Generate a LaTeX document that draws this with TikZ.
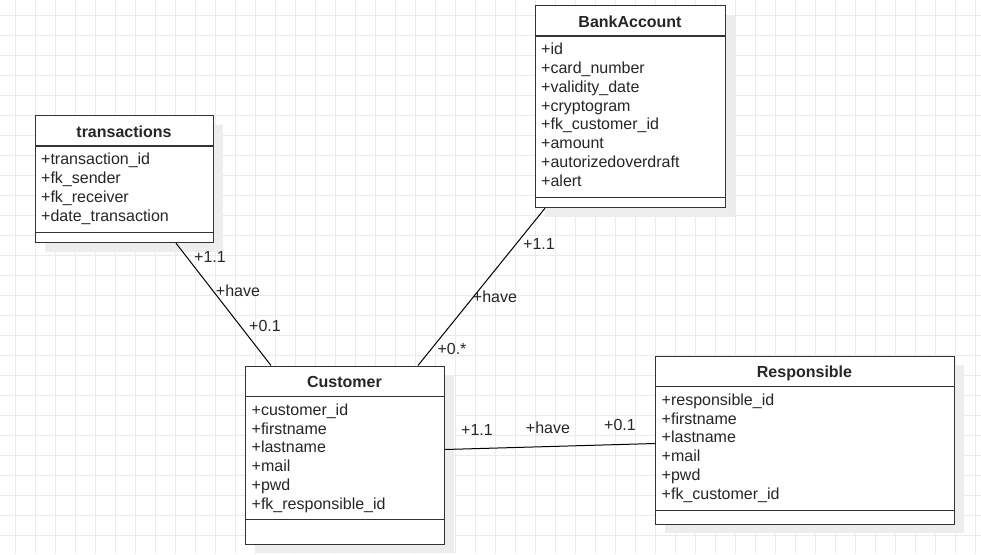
\documentclass[tikz,border=0pt]{standalone}
\usepackage{fontspec}
\setmainfont{Liberation Sans}
\usetikzlibrary{shadows}

\tikzset{
  umlbox/.style={draw=black!80, line width=1.2pt, fill=white, anchor=north west, inner sep=0pt,
    drop shadow={shadow xshift=9pt, shadow yshift=-9pt, fill=black!7, opacity=1}},
  classrule/.style={draw=black!80, line width=1.2pt},
  classname/.style={font=\fontsize{16}{19}\selectfont\bfseries, text=black!85, anchor=base, inner sep=0pt},
  attr/.style={font=\fontsize{16}{19}\selectfont, text=black!85, anchor=base west, inner sep=0pt},
  assoc/.style={draw=black, line width=1pt},
  mult/.style={font=\fontsize{16}{19}\selectfont, text=black!85, inner sep=0pt},
  gridline/.style={draw=black!8, line width=1pt}
}

\begin{document}
\begin{tikzpicture}[x=1pt, y=-1pt]
  \useasboundingbox (0,0) rectangle (981,554);
  \fill[white] (0,0) rectangle (981,554);
  % grid
  \foreach \gx in {15,35,...,975} \draw[gridline] (\gx,0) -- (\gx,554);
  \foreach \gy in {15,35,...,535} \draw[gridline] (0,\gy) -- (981,\gy);

  % transactions
  \node[umlbox, minimum width=178pt, minimum height=127pt] (trans) at (35,115) {};
  \draw[classrule] ([yshift=-31pt]trans.north west) -- ([yshift=-31pt]trans.north east);
  \draw[classrule] ([yshift=11pt]trans.south west) -- ([yshift=11pt]trans.south east);
  \node[classname] (trans-name) at (124,137) {transactions};
  \foreach \a [count=\i] in {+transaction\_id, +fk\_sender, +fk\_receiver, +date\_transaction}
    \node[attr] (trans-a\i) at (41, 146+18.75*\i) {\a};

  % BankAccount
  \node[umlbox, minimum width=190pt, minimum height=202pt] (bank) at (535,5) {};
  \draw[classrule] ([yshift=-31pt]bank.north west) -- ([yshift=-31pt]bank.north east);
  \draw[classrule] ([yshift=11pt]bank.south west) -- ([yshift=11pt]bank.south east);
  \node[classname] (bank-name) at (630,27) {BankAccount};
  \foreach \a [count=\i] in {+id, +card\_number, +validity\_date, +cryptogram, +fk\_customer\_id, +amount, +autorizedoverdraft, +alert}
    \node[attr] (bank-a\i) at (541, 36+18.75*\i) {\a};

  % Customer
  \node[umlbox, minimum width=199pt, minimum height=178pt] (cust) at (245,365.5) {};
  \draw[classrule] ([yshift=-31pt]cust.north west) -- ([yshift=-31pt]cust.north east);
  \draw[classrule] ([yshift=25pt]cust.south west) -- ([yshift=25pt]cust.south east);
  \node[classname] (cust-name) at (344.5,387.5) {Customer};
  \foreach \a [count=\i] in {+customer\_id, +firstname, +lastname, +mail, +pwd, +fk\_responsible\_id}
    \node[attr] (cust-a\i) at (251.5, 396.5+18.75*\i) {\a};

  % Responsible
  \node[umlbox, minimum width=299pt, minimum height=168pt] (resp) at (655,355.5) {};
  \draw[classrule] ([yshift=-31pt]resp.north west) -- ([yshift=-31pt]resp.north east);
  \draw[classrule] ([yshift=14pt]resp.south west) -- ([yshift=14pt]resp.south east);
  \node[classname] (resp-name) at (804.5,377.5) {Responsible};
  \foreach \a [count=\i] in {+responsible\_id, +firstname, +lastname, +mail, +pwd, +fk\_customer\_id}
    \node[attr] (resp-a\i) at (661.5, 386.5+18.75*\i) {\a};

  % associations
  \draw[assoc] ([xshift=141pt]trans.south west) -- ([xshift=26pt]cust.north west);
  \draw[assoc] ([xshift=10pt]bank.south west) -- ([xshift=173pt]cust.north west);
  \draw[assoc] ([yshift=-84pt]cust.north east) -- ([yshift=-88pt]resp.north west);

  \node[mult] (tc-src) at (210,257) {+1.1};
  \node[mult] (tc-role) at (238,291) {+have};
  \node[mult] (tc-dst) at (265,326) {+0.1};

  \node[mult] (bc-src) at (539,244) {+1.1};
  \node[mult] (bc-role) at (495,297) {+have};
  \node[mult] (bc-dst) at (452,349) {+0.*};

  \node[mult] (cr-src) at (477,430) {+1.1};
  \node[mult] (cr-role) at (548,428) {+have};
  \node[mult] (cr-dst) at (620,425) {+0.1};
\end{tikzpicture}
\end{document}
